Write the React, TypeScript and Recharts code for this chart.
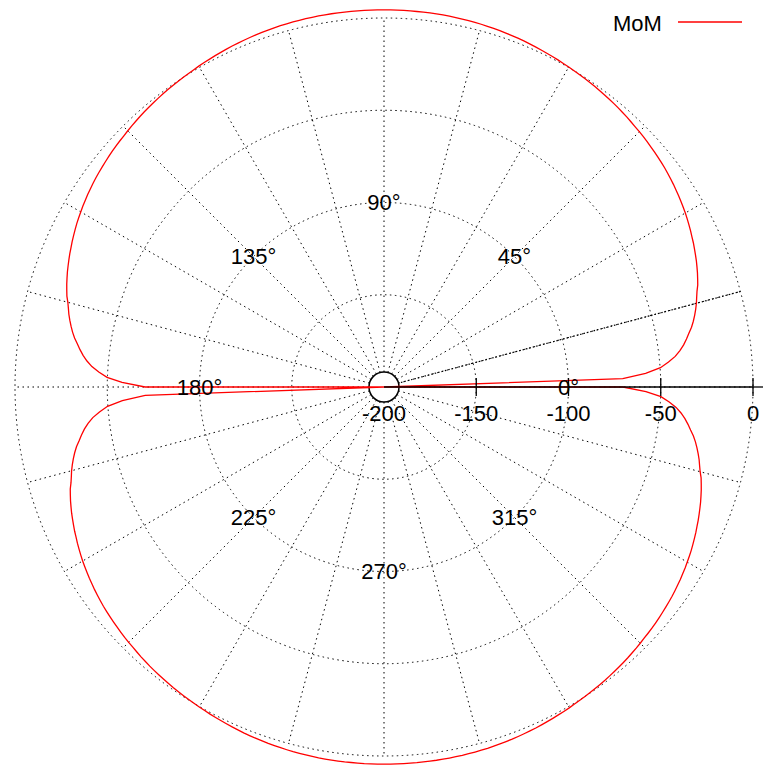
import React from 'react'
import { RadarChart, Radar, PolarGrid, PolarAngleAxis, PolarRadiusAxis, Legend, Customized } from 'recharts'

const W = 763
const H = 767
const CX = 384
const CY = 387
const OUTER_R = 369
const FONT = '"Liberation Sans", Arial, sans-serif'

// gain (dB) read off the first quadrant, 0..90 deg in 1 deg steps
// the pattern is mirrored about both axes
const QUARTER_GAIN = [
  -200, -70.5, -58.0, -49.8, -45.2, -41.3, -38.4, -36.0, -34.0, -32.2,
  -30.2, -28.6, -27.2, -25.9, -24.7, -23.7, -22.6, -21.2, -20.2, -19.2,
  -18.3, -17.4, -16.6, -15.8, -15.0, -14.3, -13.5, -12.8, -12.1, -11.4,
  -10.8, -10.2, -9.6, -9.1, -8.5, -8.0, -7.5, -7.0, -6.6, -6.2,
  -5.8, -5.4, -5.0, -4.6, -4.3, -4.0, -3.6, -3.2, -2.9, -2.5,
  -2.2, -1.9, -1.6, -1.3, -1.0, -0.75, -0.5, -0.25, 0.0, 0.25,
  0.5, 0.8, 1.05, 1.3, 1.55, 1.8, 2.05, 2.3, 2.5, 2.7,
  2.9, 3.1, 3.25, 3.4, 3.55, 3.7, 3.8, 3.9, 4.0, 4.1,
  4.15, 4.2, 4.25, 4.3, 4.3, 4.35, 4.4, 4.4, 4.4, 4.4,
  4.4,
]

const R_TICKS = [-200, -150, -100, -50, 0]
const SPOKES = [0, 15, 30, 45, 60, 75, 90, 105, 120, 135, 150, 165, 180, 195, 210, 225, 240, 255, 270, 285, 300, 315, 330, 345]
const ANGLE_LABELS = [0, 45, 90, 135, 180, 225, 270, 315]

const ANGLES = Array.from({ length: 360 }, (_, i) => i)

const data = ANGLES.map((a) => {
  const q = a % 180
  return { angle: a, gain: QUARTER_GAIN[q <= 90 ? q : 180 - q] }
})

const LABEL_R = (OUTER_R * (-100 - R_TICKS[0])) / (0 - R_TICKS[0])

function AngleTick(props: any) {
  const v = props.payload?.value
  if (!ANGLE_LABELS.includes(v)) return <g />
  const rad = (v * Math.PI) / 180
  return (
    <text
      x={CX + LABEL_R * Math.cos(rad)}
      y={CY - LABEL_R * Math.sin(rad)}
      textAnchor="middle"
      dominantBaseline="central"
      fontSize={22}
      fontFamily={FONT}
      fill="#000"
    >
      {`${v}°`}
    </text>
  )
}

function RadiusTick(props: any) {
  const { x, y, payload } = props
  return (
    <g>
      {/* the innermost tick sits under the centre hole */}
      {payload.value !== R_TICKS[0] && <line x1={x} y1={y - 9} x2={x} y2={y + 9} stroke="#000" strokeWidth={1.3} />}
      <text x={x} y={y + 26} textAnchor="middle" dominantBaseline="central" fontSize={22} fontFamily={FONT} fill="#000">
        {payload.value}
      </text>
    </g>
  )
}

function Overlay() {
  const r15 = (15 * Math.PI) / 180
  return (
    <g>
      <line
        x1={CX}
        y1={CY}
        x2={CX + OUTER_R * Math.cos(r15)}
        y2={CY - OUTER_R * Math.sin(r15)}
        stroke="#000"
        strokeWidth={1.2}
        strokeDasharray="1.5 2"
      />
      <line x1={CX + OUTER_R} y1={CY} x2={W} y2={CY} stroke="#000" strokeWidth={1.3} />
      <circle cx={CX} cy={CY} r={15} fill="#fff" stroke="#000" strokeWidth={1.5} />
    </g>
  )
}

function LegendBox() {
  return (
    <div style={{ display: 'flex', alignItems: 'center', height: 26, fontFamily: FONT, fontSize: 22 }}>
      <span style={{ lineHeight: '26px' }}>MoM</span>
      <svg width={66} height={26} style={{ marginLeft: 16 }}>
        <line x1={0} y1={11} x2={64} y2={11} stroke="#ff0000" strokeWidth={1.3} />
      </svg>
    </div>
  )
}

export default function App() {
  return (
    <div style={{ position: 'absolute', left: 0, top: 0, width: W, height: H, background: '#fff' }}>
      <RadarChart width={W} height={H} data={data} cx={CX} cy={CY} outerRadius={OUTER_R} startAngle={0} endAngle={360} margin={{ top: 0, right: 0, bottom: 0, left: 0 }}>
        <PolarGrid gridType="circle" polarAngles={SPOKES} stroke="#000" strokeWidth={1} strokeDasharray="1.5 3.5" />
        <PolarAngleAxis dataKey="angle" axisLine={false} tickLine={false} tick={<AngleTick />} />
        <PolarRadiusAxis
          angle={0}
          domain={[-200, 0]}
          ticks={R_TICKS}
          allowDataOverflow
          axisLine={{ stroke: '#000', strokeWidth: 1.3 }}
          tick={<RadiusTick />}
        />
        <Radar name="MoM" dataKey="gain" stroke="#ff0000" strokeWidth={1.3} fill="none" fillOpacity={0} dot={false} isAnimationActive={false} />
        <Legend content={<LegendBox />} wrapperStyle={{ position: 'absolute', top: 11, left: 613, width: 150 }} />
        <Customized component={<Overlay />} />
      </RadarChart>
    </div>
  )
}
